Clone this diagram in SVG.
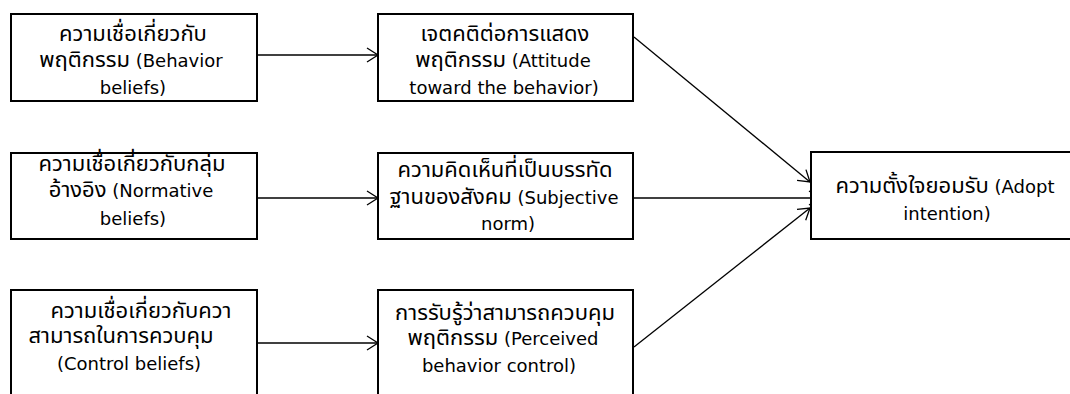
<svg xmlns="http://www.w3.org/2000/svg" width="1070" height="394" viewBox="0 0 1070 394">
  <style>
    .box { fill: #ffffff; stroke: #000000; stroke-width: 2; }
    .lbl { font-family: "DejaVu Sans", "Noto Sans Thai", "Noto Sans", sans-serif; font-size: 18px; fill: #000000; text-anchor: middle; }
    .th { font-size: 22px; }
    .edge { fill: none; stroke: #000000; stroke-width: 1.3; marker-end: url(#open); }
  </style>
  <defs>
    <marker id="open" markerUnits="userSpaceOnUse" markerWidth="16" markerHeight="18" refX="12" refY="8" orient="auto">
      <path d="M1,1 L12,8 L1,15" fill="none" stroke="#000000" stroke-width="1.3"/>
    </marker>
  </defs>
  <rect width="1070" height="394" fill="#ffffff"/>

  <!-- connectors -->
  <g id="connectors">
    <line class="edge" x1="258" y1="55" x2="378" y2="55"/>
    <line class="edge" x1="258" y1="198" x2="378" y2="198"/>
    <line class="edge" x1="258" y1="343" x2="378" y2="343"/>
    <line class="edge" x1="634" y1="37" x2="810" y2="182"/>
    <line class="edge" x1="634" y1="198" x2="820" y2="198"/>
    <line class="edge" x1="634" y1="347" x2="810" y2="208"/>
  </g>

  <!-- beliefs column -->
  <g id="behavior-beliefs">
    <rect class="box" x="11" y="14" width="246" height="87"/>
    <text class="lbl"><tspan class="th" x="133" y="41">ความเชื่อเกี่ยวกับ</tspan><tspan x="131" y="67"><tspan class="th">พฤติกรรม</tspan> (Behavior</tspan><tspan x="133" y="94">beliefs)</tspan></text>
  </g>
  <g id="normative-beliefs">
    <rect class="box" x="11" y="153" width="246" height="86"/>
    <text class="lbl"><tspan class="th" x="132" y="171">ความเชื่อเกี่ยวกับกลุ่ม</tspan><tspan x="131" y="197"><tspan class="th">อ้างอิง</tspan> (Normative</tspan><tspan x="133" y="225">beliefs)</tspan></text>
  </g>
  <g id="control-beliefs">
    <rect class="box" x="11" y="290" width="246" height="110"/>
    <text class="lbl"><tspan class="th" x="141" y="318">ความเชื่อเกี่ยวกับควา</tspan><tspan class="th" x="121" y="343">สามารถในการควบคุม</tspan><tspan x="129" y="370">(Control beliefs)</tspan></text>
  </g>

  <!-- attitude / norm / control column -->
  <g id="attitude">
    <rect class="box" x="378" y="14" width="255" height="87"/>
    <text class="lbl"><tspan class="th" x="505" y="41">เจตคติต่อการแสดง</tspan><tspan x="503" y="67"><tspan class="th">พฤติกรรม</tspan> (Attitude</tspan><tspan x="504" y="94">toward the behavior)</tspan></text>
  </g>
  <g id="subjective-norm">
    <rect class="box" x="378" y="153" width="255" height="86"/>
    <text class="lbl"><tspan class="th" x="505" y="177">ความคิดเห็นที่เป็นบรรทัด</tspan><tspan x="504" y="204"><tspan class="th">ฐานของสังคม</tspan> (Subjective</tspan><tspan x="508" y="230">norm)</tspan></text>
  </g>
  <g id="perceived-control">
    <rect class="box" x="378" y="290" width="255" height="110"/>
    <text class="lbl"><tspan class="th" x="505" y="320">การรับรู้ว่าสามารถควบคุม</tspan><tspan x="503" y="345"><tspan class="th">พฤติกรรม</tspan> (Perceived</tspan><tspan x="499" y="372">behavior control)</tspan></text>
  </g>

  <!-- outcome -->
  <g id="adopt-intention">
    <rect class="box" x="811" y="152" width="270" height="87"/>
    <text class="lbl"><tspan x="945" y="193"><tspan class="th">ความตั้งใจยอมรับ</tspan> (Adopt</tspan><tspan x="947" y="220">intention)</tspan></text>
  </g>
</svg>
